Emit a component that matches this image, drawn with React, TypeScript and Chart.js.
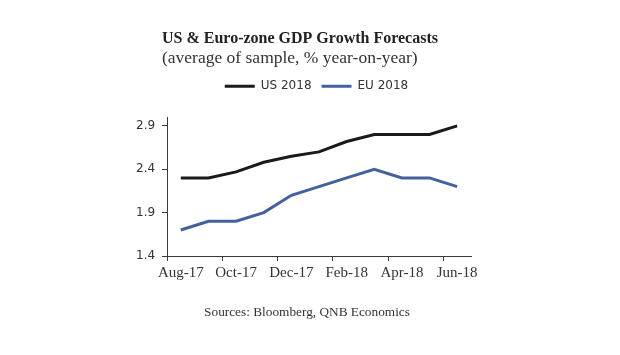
import React, { useEffect, useRef } from "react";
import { Chart, registerables } from "chart.js";

Chart.register(...registerables);

const months = ["Aug-17", "Sep-17", "Oct-17", "Nov-17", "Dec-17", "Jan-18", "Feb-18", "Mar-18", "Apr-18", "May-18", "Jun-18"];
const us2018 = [2.3, 2.3, 2.37, 2.48, 2.55, 2.6, 2.72, 2.8, 2.8, 2.8, 2.9];
const eu2018 = [1.7, 1.8, 1.8, 1.9, 2.1, 2.2, 2.3, 2.4, 2.3, 2.3, 2.2];
const yTicks = [1.4, 1.9, 2.4, 2.9];
const titleText = "US & Euro-zone GDP Growth Forecasts";
const subtitleText = "(average of sample, % year-on-year)";
const sourceText = "Sources: Bloomberg, QNB Economics";

const TEXT = "#333333";
const AXIS = "#3a3a3a";

const sourcesPlugin = {
  id: "sourcesNote",
  afterDraw(chart: any) {
    const ctx = chart.ctx;
    ctx.save();
    ctx.font = "13.3px 'Liberation Serif'";
    ctx.fillStyle = TEXT;
    ctx.textAlign = "center";
    ctx.textBaseline = "middle";
    ctx.fillText(sourceText, chart.width / 2 - 3, chart.chartArea.bottom + 57);
    ctx.restore();
  },
};

export default function App() {
  const ref = useRef<HTMLCanvasElement | null>(null);
  useEffect(() => {
    if (!ref.current) return;
    const chart = new Chart(ref.current, {
      type: "line",
      data: {
        labels: months,
        datasets: [
          {
            label: "US 2018",
            data: us2018,
            borderColor: "#1a1a1a",
            backgroundColor: "#1a1a1a",
            borderWidth: 3,
            pointRadius: 0,
            tension: 0,
          },
          {
            label: "EU 2018",
            data: eu2018,
            borderColor: "#44619f",
            backgroundColor: "#44619f",
            borderWidth: 3,
            pointRadius: 0,
            tension: 0,
          },
        ],
      },
      options: {
        responsive: false,
        animation: false,
        layout: { padding: { left: 162, right: 149, top: 0, bottom: 70 } },
        plugins: {
          tooltip: { enabled: false },
          title: {
            display: true,
            text: titleText,
            align: "start",
            color: "#222222",
            font: { family: "'Liberation Serif'", size: 16, weight: "bold" },
            padding: { top: 29, bottom: 0 },
          },
          subtitle: {
            display: true,
            text: subtitleText,
            align: "start",
            color: TEXT,
            font: { family: "'Liberation Serif'", size: 17.5 },
            padding: { top: 0, bottom: 1 },
          },
          legend: {
            display: true,
            position: "top",
            labels: {
              color: TEXT,
              font: { family: "'DejaVu Sans'", size: 12 },
              boxWidth: 30,
              boxHeight: 3,
              padding: 10,
              generateLabels: (c: any) =>
                Chart.defaults.plugins.legend.labels.generateLabels(c).map((l: any) => ({
                  ...l,
                  fillStyle: l.strokeStyle,
                  lineWidth: 0,
                })),
            },
          },
        },
        scales: {
          x: {
            type: "category",
            offset: true,
            grid: {
              offset: true,
              drawOnChartArea: false,
              drawTicks: true,
              tickLength: 5,
              color: (ctx: any) => (ctx.index % 2 === 0 ? AXIS : "rgba(0,0,0,0)"),
            },
            border: { display: true, color: AXIS, width: 1 },
            ticks: {
              autoSkip: false,
              maxRotation: 0,
              color: TEXT,
              padding: 3,
              font: { family: "'Liberation Serif'", size: 15 },
              callback: (_v: any, i: number) => (i % 2 === 0 ? months[i] : ""),
            },
          },
          gap: {
            type: "category",
            position: "top",
            display: true,
            grid: { display: false, drawTicks: false },
            border: { display: false },
            ticks: { display: false },
            afterFit: (scale: any) => {
              scale.height = 15;
            },
          },
          y: {
            min: 1.4,
            max: 3.0,
            afterBuildTicks: (scale: any) => {
              scale.ticks = yTicks.map((v) => ({ value: v }));
            },
            afterFit: (scale: any) => {
              scale.width = 5;
              scale.paddingTop = 0;
              scale.paddingBottom = 0;
            },
            grid: {
              drawOnChartArea: false,
              drawTicks: true,
              tickLength: 5,
              color: AXIS,
            },
            border: { display: true, color: AXIS, width: 1 },
            ticks: {
              mirror: true,
              crossAlign: "near",
              color: TEXT,
              padding: -31,
              font: { family: "'DejaVu Sans'", size: 12 },
              callback: (v: any) => Number(v).toFixed(1),
            },
          },
        },
      },
      plugins: [sourcesPlugin],
    });
    return () => chart.destroy();
  }, []);
  return (
    <div style={{ position: "fixed", left: 0, top: 0, width: 620, height: 355, background: "#ffffff" }}>
      <canvas ref={ref} width={620} height={355} style={{ display: "block" }} />
    </div>
  );
}
